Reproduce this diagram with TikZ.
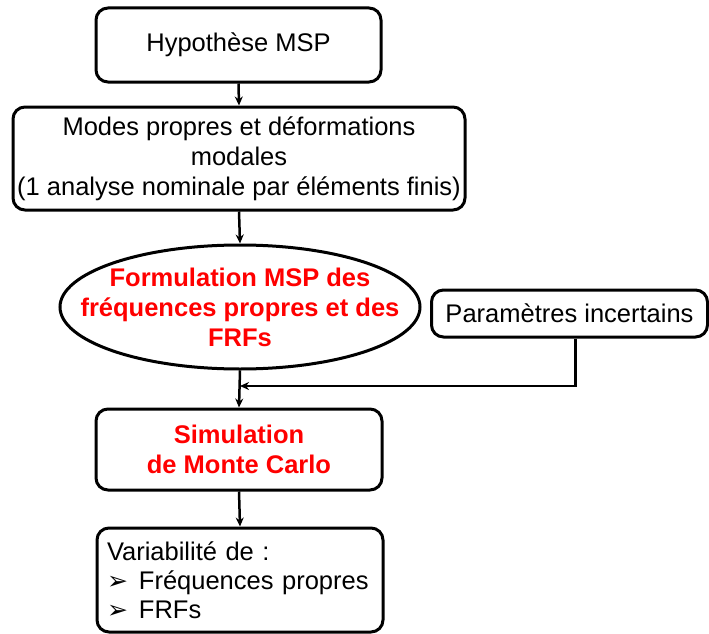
\documentclass[tikz,border=0pt]{standalone}
\usepackage{fontspec}
\setmainfont{Liberation Sans}
\newfontfamily\symfont{DejaVu Sans}
\usetikzlibrary{arrows.meta,shapes.geometric}

\newcommand{\bigtext}{\fontsize{25.5}{30}\selectfont}
\newcommand{\puce}{{\symfont\fontsize{25}{25}\selectfont ➢}\hspace{11pt}}

\tikzset{
	box/.style={draw, line width=3pt, rounded corners=12pt, align=center, inner sep=0pt},
	flow/.style={->, line width=2.5pt},
	rouge/.style={text=red, font=\bigtext\bfseries, align=center}
}

\begin{document}
\begin{tikzpicture}[x=1pt, y=-1pt, font=\bigtext, >={Stealth[length=9pt,width=8pt]}]
	\useasboundingbox (0,0) rectangle (709,634);
	\node[box, minimum width=285pt, minimum height=74pt] (hyp) at (238.5,45) {Hypothèse MSP};
	\node[box, minimum width=452pt, minimum height=103pt] (modes) at (239,158.5) {Modes propres et déformations\\modales\\(1 analyse nominale par éléments finis)};
	\node[draw, ellipse, line width=3pt, minimum width=360pt, minimum height=124pt, inner sep=0pt] (form) at (240,307) {};
	\node[rouge] (formtxt) at (form) {Formulation MSP des\\fréquences propres et des\\FRFs};
	\node[box, minimum width=276pt, minimum height=47pt] (param) at (569.5,313.5) {Paramètres incertains};
	\node[box, minimum width=286pt, minimum height=81pt] (sim) at (239,449.5) {};
	\node[rouge] (simtxt) at (sim) {Simulation\\de Monte Carlo};
	\node[box, minimum width=286pt, minimum height=104pt] (res) at (240,580) {};
	\node[text width=266pt, align=left, inner sep=0pt, font=\fontsize{25.5}{29}\selectfont] (restxt) at (res) {Variabilité de :\\\puce Fréquences propres\\\puce FRFs};
	\coordinate (join) at (240,386);
	% liaisons
	\draw[flow] (hyp.south) -- (modes.north);
	\draw[flow] (modes.south) -- (form.north);
	\draw[flow] (form.south) -- (sim.north);
	\draw[flow] ([xshift=6pt]param.south) |- (join);
	\draw[flow] (sim.south) -- (res.north);
\end{tikzpicture}
\end{document}
